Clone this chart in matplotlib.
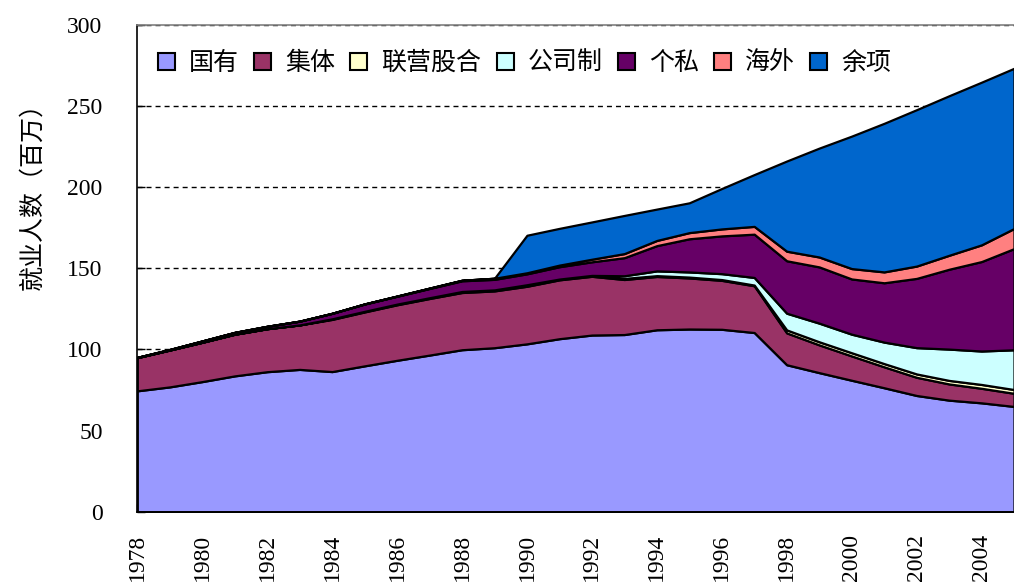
import numpy as np
import matplotlib.pyplot as plt
from matplotlib.patches import Patch

years = np.arange(1978, 2006)

# employment by ownership, million persons
state = [74.51, 76.93, 80.19, 83.72, 86.30, 87.71, 86.37, 89.90, 93.33, 96.54,
         99.84, 101.08, 103.46, 106.64, 108.89, 109.20, 112.14, 112.61, 112.44,
         110.44, 90.58, 85.72, 81.02, 76.40, 71.63, 68.76, 67.10, 64.88]
collective = [20.48, 22.74, 24.25, 25.68, 26.51, 27.44, 32.16, 33.24, 34.21,
              34.88, 35.27, 35.02, 35.49, 36.28, 36.21, 33.93, 32.85, 31.47,
              30.16, 28.83, 19.63, 17.12, 14.99, 12.91, 11.22, 10.00, 8.97, 8.10]
joint = [0, 0, 0, 0, 0, 0, 0.37, 0.38, 0.43, 0.48, 0.63, 0.64, 0.96, 0.49,
         0.56, 0.66, 0.52, 0.53, 0.49, 0.43, 1.84, 1.90, 1.97, 1.98, 2.06,
         2.17, 2.36, 2.33]
company = [0, 0, 0, 0, 0, 0, 0, 0, 0, 0, 0, 0, 0, 0, 0, 1.64, 2.92, 3.17,
           3.63, 4.68, 10.30, 11.49, 11.44, 13.24, 16.21, 19.30, 20.61, 24.49]
private = [0.15, 0.32, 0.81, 1.13, 1.47, 2.31, 3.39, 4.50, 4.83, 5.69, 6.59,
           6.48, 6.71, 7.60, 8.38, 11.16, 15.57, 20.45, 23.29, 26.69, 32.32,
           34.67, 34.04, 36.58, 42.68, 49.22, 55.15, 62.36]
foreign = [0, 0, 0, 0, 0, 0, 0, 0.06, 0.13, 0.24, 0.34, 0.68, 0.66, 1.0, 1.6,
           2.5, 3.2, 3.8, 4.3, 4.8, 5.9, 6.1, 6.4, 6.7, 7.6, 8.6, 10.3, 12.4]
other = [0, 0, 0, 0, 0, 0, 0, 0, 0, 0, 0, 0, 23.13, 22.64, 22.97, 23.53,
         19.33, 18.37, 24.91, 31.94, 55.59, 67.12, 81.65, 91.59, 96.40,
         98.34, 100.27, 98.75]

labels = ['国有', '集体', '联营股合', '公司制', '个私', '海外', '余项']
colors = ['#9999FF', '#993366', '#FFFFCC', '#CCFFFF', '#660066', '#FF8080', '#0066CC']
xlabels = [str(y) if y % 2 == 0 else '' for y in years]

cjk = ['Noto Sans CJK SC', 'DejaVu Sans']
num = 'Liberation Serif'

fig = plt.figure(figsize=(10.14, 5.85), dpi=100)
ax = fig.add_axes([137.3 / 1014, 1 - 511.7 / 585, 1 - 137.3 / 1014, 486.7 / 585])

ax.stackplot(years, state, collective, joint, company, private, foreign, other,
             colors=colors, edgecolor='black', linewidth=1.6, zorder=2)

ax.set_xlim(1978, 2004.75)
ax.set_ylim(0, 300)
ax.set_yticks(np.arange(0, 301, 50))
ax.set_xticks(years)
ax.set_xticklabels(xlabels, rotation=90, family=num, fontsize=17)
for t in ax.get_yticklabels():
    t.set_family(num)
    t.set_fontsize(17)

ax.yaxis.grid(True, color='black', linestyle=(0, (3.6, 2.9)), linewidth=1.0)
ax.set_axisbelow(True)

ax.tick_params(axis='both', direction='in', length=6, width=1)
ax.tick_params(axis='y', pad=25)
ax.tick_params(axis='x', pad=16)

ax.spines['right'].set_visible(False)
ax.spines['top'].set_color('#808080')
ax.spines['top'].set_linewidth(1.2)
ax.spines['left'].set_linewidth(1.2)
ax.spines['bottom'].set_linewidth(1.2)

handles = [Patch(facecolor=c, edgecolor='black', linewidth=1.5) for c in colors]
ax.legend(handles, labels, ncol=7, loc='center left',
          bbox_to_anchor=(0.0236, 0.922), frameon=False, borderpad=0,
          borderaxespad=0, handlelength=0.68, handleheight=0.68,
          handletextpad=0.55, columnspacing=0.62,
          prop={'family': cjk, 'size': 18})

fig.text(32 / 1014, 1 - 190 / 585, '就业人数（百万）', rotation=90,
         ha='center', va='center', family=cjk, fontsize=18)

fig.savefig('out.png', dpi=100)
